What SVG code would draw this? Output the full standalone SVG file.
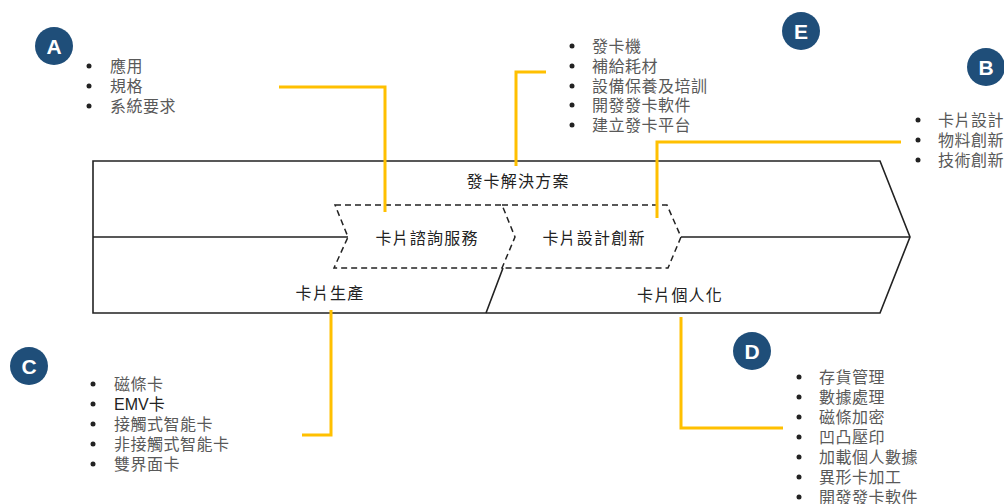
<svg xmlns="http://www.w3.org/2000/svg" width="1004" height="504" viewBox="0 0 1004 504">
<style>
.outline{fill:none;stroke:#222;stroke-width:1.6;stroke-linejoin:miter}
.dash{fill:none;stroke:#222;stroke-width:1.5;stroke-dasharray:6 4}
.conn{fill:none;stroke:#FFC000;stroke-width:3;stroke-linejoin:miter}
.lbl{font-family:"Noto Sans CJK TC","Noto Sans",sans-serif;font-size:16px;fill:#222;letter-spacing:1.2px;text-anchor:middle}
.li{font-family:"Liberation Sans","Noto Sans CJK TC",sans-serif;font-size:16px;fill:#595959;letter-spacing:0.5px}
.li2{font-family:"Liberation Sans","Noto Sans CJK TC",sans-serif;font-size:16px;fill:#222}
.dot{fill:#222}
.badge{fill:#1F4E79}
.bl{font-family:"Liberation Sans",Arial,sans-serif;font-weight:bold;font-size:21px;fill:#fff;text-anchor:middle}
</style>
<rect width="1004" height="504" fill="#fff"/>
<g id="main">
<path class="outline" d="M93,161 L880,161 L910,237 L880,313 L93,313 Z"/>
<path class="outline" d="M93,237 L348,237 M681,237 L910,237 M503,268 L486,313"/>
<text class="lbl" x="518" y="186.5">發卡解決方案</text>
<text class="lbl" x="330" y="298.5">卡片生產</text>
<text class="lbl" x="680" y="300.5">卡片個人化</text>
</g>
<g id="consult">
<path class="dash" d="M335,205 L502,205 L515,237 L502,268 L334,268 L348,237 Z"/>
<text class="lbl" x="427" y="243.5">卡片諮詢服務</text>
</g>
<g id="design">
<path class="dash" d="M502,205 L667,205 L681,237 L668,268 L502,268"/>
<text class="lbl" x="594" y="243.5">卡片設計創新</text>
</g>
<g id="connectors">
<path class="conn" d="M279,87 L385,87 L385,212"/>
<path class="conn" d="M546,72 L516,72 L516,166"/>
<path class="conn" d="M901,142 L657,142 L657,218"/>
<path class="conn" d="M331,310 L331,435 L302,435"/>
<path class="conn" d="M681,317 L681,428 L783,428"/>
</g>
<g id="nodeA">
<circle class="badge" cx="54" cy="46" r="19"/>
<text class="bl" x="54" y="53.5">A</text>
<circle class="dot" cx="89" cy="66" r="2.5"/><text class="li" x="110" y="71.5">應用</text>
<circle class="dot" cx="89" cy="86" r="2.5"/><text class="li" x="110" y="91.5">規格</text>
<circle class="dot" cx="89" cy="106" r="2.5"/><text class="li" x="110" y="111.5">系統要求</text>
</g>
<g id="nodeE">
<circle class="badge" cx="801" cy="31" r="19"/>
<text class="bl" x="801" y="38.5">E</text>
<circle class="dot" cx="572" cy="46" r="2.5"/><text class="li" x="592" y="51.5">發卡機</text>
<circle class="dot" cx="572" cy="66" r="2.5"/><text class="li" x="592" y="71.5">補給耗材</text>
<circle class="dot" cx="572" cy="86" r="2.5"/><text class="li" x="592" y="91.5">設備保養及培訓</text>
<circle class="dot" cx="572" cy="105" r="2.5"/><text class="li" x="592" y="110.5">開發發卡軟件</text>
<circle class="dot" cx="572" cy="125" r="2.5"/><text class="li" x="592" y="130.5">建立發卡平台</text>
</g>
<g id="nodeB">
<circle class="badge" cx="986" cy="67" r="19"/>
<text class="bl" x="986" y="74.5">B</text>
<circle class="dot" cx="918" cy="120" r="2.5"/><text class="li" x="938" y="125.5">卡片設計</text>
<circle class="dot" cx="918" cy="140" r="2.5"/><text class="li" x="938" y="145.5">物料創新</text>
<circle class="dot" cx="918" cy="160" r="2.5"/><text class="li" x="938" y="165.5">技術創新</text>
</g>
<g id="nodeC">
<circle class="badge" cx="29" cy="366" r="19"/>
<text class="bl" x="29" y="373.5">C</text>
<circle class="dot" cx="93" cy="384" r="2.5"/><text class="li" x="114" y="389.5">磁條卡</text>
<circle class="dot" cx="93" cy="404" r="2.5"/><text class="li2" x="114" y="409.5">EMV卡</text>
<circle class="dot" cx="93" cy="424" r="2.5"/><text class="li" x="114" y="429.5">接觸式智能卡</text>
<circle class="dot" cx="93" cy="444" r="2.5"/><text class="li" x="114" y="449.5">非接觸式智能卡</text>
<circle class="dot" cx="93" cy="464" r="2.5"/><text class="li" x="114" y="469.5">雙界面卡</text>
</g>
<g id="nodeD">
<circle class="badge" cx="752" cy="351" r="19"/>
<text class="bl" x="752" y="358.5">D</text>
<circle class="dot" cx="799" cy="377" r="2.5"/><text class="li" x="819" y="382.5">存貨管理</text>
<circle class="dot" cx="799" cy="397" r="2.5"/><text class="li" x="819" y="402.5">數據處理</text>
<circle class="dot" cx="799" cy="417" r="2.5"/><text class="li" x="819" y="422.5">磁條加密</text>
<circle class="dot" cx="799" cy="437" r="2.5"/><text class="li" x="819" y="442.5">凹凸壓印</text>
<circle class="dot" cx="799" cy="457" r="2.5"/><text class="li" x="819" y="462.5">加載個人數據</text>
<circle class="dot" cx="799" cy="477" r="2.5"/><text class="li" x="819" y="482.5">異形卡加工</text>
<circle class="dot" cx="799" cy="497" r="2.5"/><text class="li" x="819" y="502.5">開發發卡軟件</text>
</g>
</svg>
